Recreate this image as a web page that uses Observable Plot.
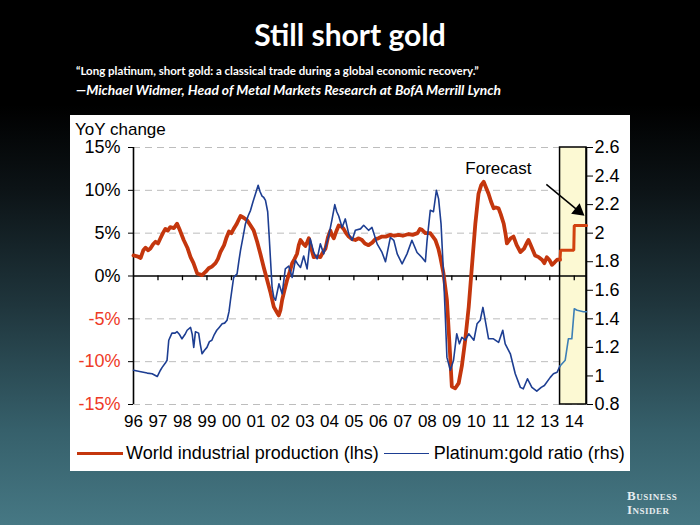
<!DOCTYPE html>
<html><head><meta charset="utf-8">
<script src="https://cdn.jsdelivr.net/npm/d3@7"></script>
<script src="https://cdn.jsdelivr.net/npm/@observablehq/plot@0.6"></script>
<style>
html,body{margin:0;padding:0}
body{width:700px;height:525px;overflow:hidden;position:relative;
 background:linear-gradient(180deg,#000 0%,#000 20%,#0c1316 36%,#1f353c 58%,#36606b 82%,#467884 100%);
 font-family:Lato,"Noto Sans",sans-serif}
#title{position:absolute;top:14px;left:0;width:700px;text-align:center;color:#fff;font-weight:bold;font-size:30px;line-height:40px}
#quote{position:absolute;left:76px;top:64px;color:#fff;font-weight:bold;font-size:11.5px;white-space:nowrap}
#author{position:absolute;left:76px;top:81px;color:#fff;font-weight:bold;font-style:italic;font-size:13.8px;white-space:nowrap}
#panel{position:absolute;left:70px;top:115px;width:560px;height:356px;background:#fff;font-family:"Liberation Sans",Arial,sans-serif}
#yoy{position:absolute;left:5px;top:5px;font-size:17px;color:#000}
#chart{position:absolute;left:0;top:0}
#legend{position:absolute;left:7px;top:328px;display:flex;align-items:center;font-size:18px;color:#000;white-space:nowrap}
.sw{display:inline-block;height:0}
#logo{position:absolute;left:627px;top:489px;color:#e6ecee;font-family:"Liberation Serif","DejaVu Serif",serif;font-variant:small-caps;font-weight:bold;font-size:13px;line-height:14px;letter-spacing:0.5px}
</style></head>
<body>
<div id="title">Still short gold</div>
<div id="quote">“Long platinum, short gold: a classical trade during a global economic recovery.”</div>
<div id="author">—Michael Widmer, Head of Metal Markets Research at BofA Merrill Lynch</div>
<div id="panel">
  <div id="chart"></div>
  <div id="yoy">YoY change</div>
  <div id="legend">
    <span class="sw" style="width:46px;border-top:3.5px solid #c4360d"></span>
    <span style="margin-left:3px">World industrial production (lhs)</span>
    <span class="sw" style="width:45px;border-top:1.5px solid #1d3e92;margin-left:5px"></span>
    <span style="margin-left:5px">Platinum:gold ratio (rhs)</span>
  </div>
</div>
<div id="logo">Business<br>Insider</div>
<script>
// World industrial production, YoY % (lhs)
const ipDates = [1996.0,1996.15,1996.29,1996.4,1996.49,1996.6,1996.69,1996.8,1996.9,1997.0,1997.1,1997.2,1997.3,1997.4,1997.5,1997.65,1997.78,1997.9,1998.05,1998.2,1998.33,1998.45,1998.6,1998.8,1998.95,1999.07,1999.2,1999.35,1999.45,1999.55,1999.7,1999.8,1999.9,2000.0,2000.09,2000.2,2000.3,2000.37,2000.5,2000.64,2000.8,2000.91,2001.05,2001.18,2001.32,2001.46,2001.6,2001.73,2001.85,2001.93,2002.0,2002.07,2002.17,2002.27,2002.38,2002.48,2002.58,2002.68,2002.75,2002.82,2002.92,2003.02,2003.1,2003.16,2003.26,2003.36,2003.5,2003.63,2003.74,2003.84,2003.94,2004.04,2004.1,2004.18,2004.28,2004.38,2004.48,2004.58,2004.68,2004.79,2004.93,2005.06,2005.2,2005.33,2005.45,2005.6,2005.75,2005.88,2006.0,2006.15,2006.3,2006.49,2006.65,2006.83,2007.0,2007.24,2007.4,2007.6,2007.7,2007.78,2007.92,2008.12,2008.33,2008.45,2008.53,2008.66,2008.8,2008.91,2009.0,2009.14,2009.28,2009.41,2009.55,2009.69,2009.82,2009.96,2010.09,2010.2,2010.3,2010.4,2010.5,2010.6,2010.71,2010.8,2010.91,2011.0,2011.12,2011.2,2011.25,2011.4,2011.52,2011.65,2011.8,2011.95,2012.05,2012.13,2012.25,2012.4,2012.55,2012.68,2012.78,2012.88,2013.0,2013.09,2013.2,2013.3,2013.42];
const ipValues = [2.4,2.3,2.1,3.0,3.3,3.0,3.2,3.7,4.0,3.8,4.4,5.0,5.5,5.3,5.7,5.6,6.1,5.3,4.2,3.3,2.2,1.5,0.3,0.1,0.5,0.9,1.1,1.5,2.0,2.8,3.6,4.5,5.2,5.0,5.5,6.0,6.6,7.0,6.8,6.5,5.8,5.3,4.0,2.6,1.0,-0.5,-2.0,-3.6,-4.2,-4.6,-4.0,-2.8,-1.6,-0.5,0.5,1.5,2.0,2.6,3.6,4.2,3.8,3.5,4.0,4.4,3.2,2.2,2.3,2.2,2.8,3.2,4.5,5.3,4.8,4.4,5.2,5.9,5.8,5.5,5.0,4.6,4.3,4.2,4.4,4.2,3.8,3.6,3.9,4.3,4.4,4.6,4.6,4.8,4.7,4.8,4.7,4.9,4.8,5.0,5.5,5.4,5.0,5.0,4.2,3.2,2.2,0.3,-2.8,-8.2,-12.9,-13.1,-12.5,-10.5,-7.4,-3.6,1.1,6.1,9.6,10.6,11.0,10.3,9.6,8.7,7.9,8.0,7.9,7.2,6.1,4.8,3.8,4.4,4.6,3.6,2.8,3.2,3.8,4.2,3.4,2.4,2.2,1.9,1.5,2.2,1.8,1.3,1.6,1.9,1.9];
// Forecast of industrial production (step profile)
const ipFcDates = [2013.42,2013.44,2013.98,2014.0,2014.5];
const ipFcValues = [1.9,3.0,3.0,5.9,5.9];

// Platinum:gold ratio (rhs)
const ptDates = [1996.0,1996.3,1996.56,1996.76,1996.97,1997.1,1997.17,1997.3,1997.37,1997.44,1997.57,1997.7,1997.78,1997.88,1997.98,1998.1,1998.19,1998.33,1998.4,1998.46,1998.53,1998.66,1998.73,1998.8,1998.9,1999.0,1999.1,1999.2,1999.3,1999.4,1999.5,1999.62,1999.72,1999.82,1999.9,1999.96,2000.09,2000.23,2000.3,2000.37,2000.47,2000.57,2000.68,2000.78,2000.88,2000.98,2001.09,2001.17,2001.25,2001.32,2001.39,2001.48,2001.54,2001.59,2001.66,2001.73,2001.8,2001.94,2002.07,2002.2,2002.34,2002.48,2002.61,2002.72,2002.82,2002.95,2003.09,2003.22,2003.36,2003.5,2003.63,2003.77,2003.97,2004.1,2004.22,2004.3,2004.38,2004.52,2004.65,2004.79,2004.93,2005.06,2005.27,2005.4,2005.6,2005.74,2005.95,2006.15,2006.29,2006.49,2006.63,2006.77,2006.97,2007.17,2007.37,2007.58,2007.78,2007.92,2007.99,2008.12,2008.25,2008.37,2008.46,2008.56,2008.66,2008.73,2008.8,2008.94,2009.07,2009.2,2009.31,2009.41,2009.55,2009.69,2009.9,2010.03,2010.16,2010.27,2010.38,2010.5,2010.7,2010.91,2011.08,2011.18,2011.39,2011.59,2011.8,2011.92,2012.09,2012.27,2012.47,2012.65,2012.78,2013.02,2013.15,2013.3,2013.42];
const ptRatio = [1.04,1.03,1.02,1.015,0.996,1.04,1.06,1.09,1.11,1.25,1.30,1.30,1.31,1.29,1.26,1.29,1.32,1.34,1.29,1.20,1.31,1.30,1.22,1.155,1.18,1.20,1.24,1.25,1.29,1.32,1.34,1.365,1.37,1.39,1.45,1.53,1.69,1.715,1.80,1.88,1.97,2.065,2.12,2.16,2.22,2.275,2.335,2.29,2.26,2.25,2.23,2.15,1.98,1.83,1.62,1.55,1.53,1.645,1.575,1.75,1.77,1.69,1.81,1.78,1.76,1.84,1.75,1.96,1.865,1.82,1.925,1.855,1.98,2.09,2.2,2.15,2.12,2.04,2.10,1.995,1.95,2.02,2.03,2.055,2.02,2.04,1.925,1.865,1.80,1.97,1.95,1.855,1.785,1.855,1.95,1.865,1.83,1.80,1.95,2.16,2.15,2.30,2.24,2.065,1.715,1.435,1.13,1.04,1.11,1.295,1.225,1.27,1.25,1.295,1.25,1.365,1.39,1.48,1.375,1.26,1.26,1.235,1.32,1.225,1.155,1.015,0.92,0.91,0.98,0.92,0.893,0.92,0.933,0.99,1.015,1.026,1.07];
const ptFcDates = [2013.42,2013.63,2013.76,2013.9,2014.0,2014.12,2014.37,2014.5];
const ptFcRatio = [1.07,1.11,1.26,1.26,1.47,1.46,1.45,1.45];

// Axes
const leftPosTicks = [0,5,10,15];
const leftNegTicks = [-15,-10,-5];
const gridLevels = [-15,-10,-5,5,10,15];
const rightTickValues = [0.8,1.0,1.2,1.4,1.6,1.8,2.0,2.2,2.4,2.6];
const rightTickLabels = ["0.8","1","1.2","1.4","1.6","1.8","2","2.2","2.4","2.6"];
const yearTicks = [1996,1997,1998,1999,2000,2001,2002,2003,2004,2005,2006,2007,2008,2009,2010,2011,2012,2013,2014];
const yearLabels = ["96","97","98","99","00","01","02","03","04","05","06","07","08","09","10","11","12","13","14"];
const forecastStart = 2013.42;
const xEnd = 2014.5;
// Annotation
const forecastText = [{x: 2010.9, y: 12.6, label: "Forecast"}];
const arrowFrom = {x: 2012.86, y: 10.7};
const arrowTo = {x: 2014.17, y: 7.6};

// ratio axis (0.8..2.6) mapped onto the pct axis (-15..15)
const rToPct = r => (r - 0.8) / 1.8 * 30 - 15;

const ip = ipDates.map((t, i) => ({t, v: ipValues[i]}));
const ipFc = ipFcDates.map((t, i) => ({t, v: ipFcValues[i]}));
const pt = ptDates.map((t, i) => ({t, v: rToPct(ptRatio[i])}));
const ptFc = ptFcDates.map((t, i) => ({t, v: rToPct(ptFcRatio[i])}));
const rightTicks = rightTickValues.map((r, i) => ({p: rToPct(r), label: rightTickLabels[i]}));
const labelByPct = new Map(rightTicks.map(d => [d.p, d.label]));
const yearLabelMap = new Map(yearTicks.map((y, i) => [y, yearLabels[i]]));

const red = "#c4360d", blue = "#1d3e92";

const chart = Plot.plot({
  width: 560, height: 320,
  marginLeft: 63, marginRight: 44, marginTop: 32, marginBottom: 31,
  style: {fontFamily: "'Liberation Sans', Arial, sans-serif", fontSize: "17px", color: "#000", background: "transparent", overflow: "visible"},
  x: {domain: [1996, xEnd], axis: null},
  y: {domain: [-15, 15], axis: null},
  marks: [
    Plot.ruleY(gridLevels, {stroke: "#bdbdbd", strokeWidth: 1, strokeDasharray: "7,5"}),
    Plot.rect([0], {x1: forecastStart, x2: xEnd, y1: -15, y2: 15, fill: "#fcf9d3", stroke: "#000", strokeWidth: 1.5}),
    Plot.ruleY([0], {stroke: "#000", strokeWidth: 1.5}),
    Plot.ruleX(yearTicks.slice(1), {y1: 0, y2: -0.55, stroke: "#000", strokeWidth: 1.3}),
    Plot.ruleX([1996], {y1: -15, y2: 15, stroke: "#000", strokeWidth: 1.6}),
    Plot.ruleX([xEnd], {y1: -15, y2: 15, stroke: "#000", strokeWidth: 1.6}),
    Plot.axisY(leftPosTicks, {anchor: "left", tickSize: 5, tickPadding: 8, fontSize: 18, stroke: "#000", fill: "#000", tickFormat: d => d + "%"}),
    Plot.axisY(leftNegTicks, {anchor: "left", tickSize: 5, tickPadding: 8, fontSize: 18, stroke: "#000", fill: "#ee3a26", tickFormat: d => d + "%"}),
    Plot.axisY(rightTicks.map(d => d.p), {anchor: "right", tickSize: 6, tickPadding: 2, fontSize: 18, stroke: "#000", fill: "#000", tickFormat: d => labelByPct.get(d)}),
    Plot.axisX(yearTicks, {anchor: "bottom", tickSize: 0, tickPadding: 10, fontSize: 17, fill: "#000", tickFormat: d => yearLabelMap.get(d)}),
    Plot.line(ip, {x: "t", y: "v", stroke: red, strokeWidth: 3.8, strokeLinejoin: "round"}),
    Plot.line(ipFc, {x: "t", y: "v", stroke: "#d2420f", strokeWidth: 3, strokeLinejoin: "miter"}),
    Plot.line(pt, {x: "t", y: "v", stroke: blue, strokeWidth: 1.6}),
    Plot.line(ptFc, {x: "t", y: "v", stroke: "#3d7fb6", strokeWidth: 1.6}),
    Plot.text(forecastText, {x: "x", y: "y", text: "label", fontSize: 17, fill: "#000"}),
    Plot.link([0], {x1: arrowFrom.x, y1: arrowFrom.y, x2: arrowTo.x, y2: arrowTo.y, stroke: "#000", strokeWidth: 1.5}),
    Plot.dot([0], {x: arrowTo.x, y: arrowTo.y, symbol: "triangle", r: 5, fill: "#000", stroke: "none", rotate: 129})
  ]
});
document.getElementById("chart").appendChild(chart);
</script>
</body></html>
